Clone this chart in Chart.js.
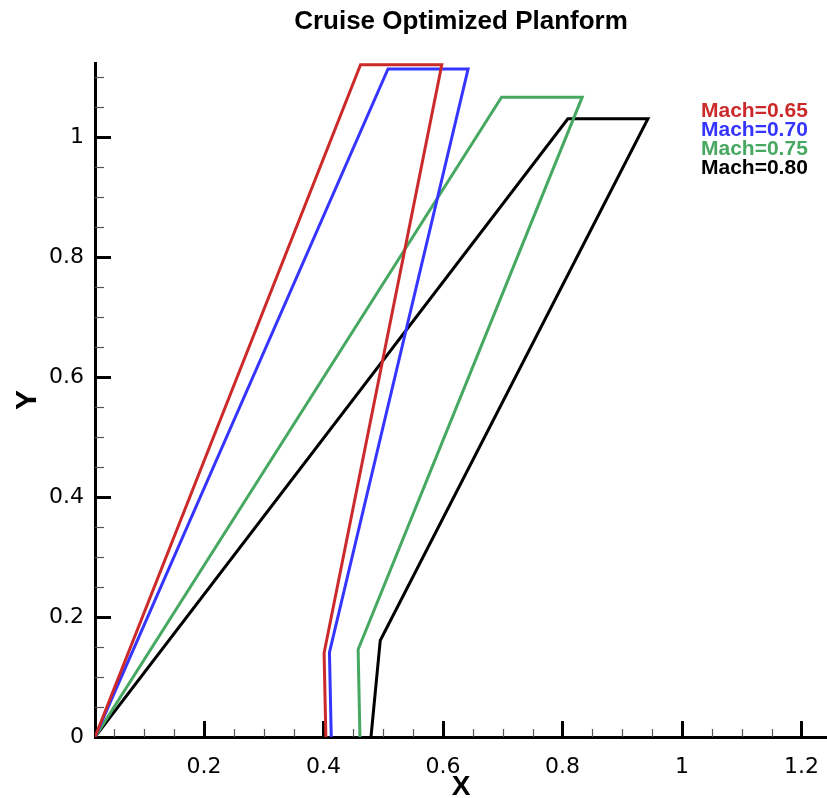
<!DOCTYPE html>
<html>
<head>
<meta charset="utf-8">
<title>Cruise Optimized Planform</title>
<script src="https://cdn.jsdelivr.net/npm/chart.js@4/dist/chart.umd.min.js"></script>
<style>
  html, body { margin: 0; padding: 0; background: #fff; }
  #wrap { width: 827px; height: 798px; }
</style>
</head>
<body>
<div id="wrap"><canvas id="planform" width="827" height="798"></canvas></div>
<script>
// planform outlines: root LE -> tip LE -> tip TE -> kink TE -> root TE
const chartTitle = 'Cruise Optimized Planform';
const seriesLabels = ['Mach=0.65', 'Mach=0.70', 'Mach=0.75', 'Mach=0.80'];
const seriesColors = ['#cc2a2a', '#3535ff', '#47a862', '#000000'];

const mach065X = [0.0176, 0.462, 0.598, 0.401, 0.404];
const mach065Y = [0, 1.121, 1.121, 0.140, 0];
const mach070X = [0.0176, 0.508, 0.642, 0.410, 0.413];
const mach070Y = [0, 1.114, 1.114, 0.141, 0];
const mach075X = [0.0176, 0.698, 0.833, 0.458, 0.461];
const mach075Y = [0, 1.067, 1.067, 0.146, 0];
const mach080X = [0.0176, 0.809, 0.943, 0.495, 0.4795];
const mach080Y = [0, 1.031, 1.031, 0.161, 0];

const xRange = [0.0176, 1.2427];
const yRange = [0, 1.124];
const majorStep = 0.2, minorStep = 0.05;

const toPoints = (xs, ys) => xs.map((x, i) => ({ x: x, y: ys[i] }));
const isMajor = (v) => Math.abs(v / majorStep - Math.round(v / majorStep)) < 1e-6;
const fmt = (v) => String(Math.round(v * 10) / 10);

const allX = [mach065X, mach070X, mach075X, mach080X];
const allY = [mach065Y, mach070Y, mach075Y, mach080Y];

// inward tick marks (major + minor), like the original plot
const inwardTicks = {
    id: 'inwardTicks',
    beforeDatasetsDraw(chart) {
        const { ctx, chartArea, scales: { x, y } } = chart;
        ctx.save();
        x.ticks.forEach(t => {
            if (t.value <= x.min + 1e-6 || t.value >= x.max - 1e-6) return;
            const major = isMajor(t.value);
            const px = Math.round(x.getPixelForValue(t.value)) + 0.5;
            ctx.lineWidth = major ? 3 : 1.2;
            ctx.strokeStyle = major ? '#000' : '#555';
            ctx.beginPath();
            ctx.moveTo(px, chartArea.bottom);
            ctx.lineTo(px, chartArea.bottom - (major ? 16 : 8));
            ctx.stroke();
        });
        y.ticks.forEach(t => {
            if (t.value <= y.min + 1e-6 || t.value >= y.max - 1e-6) return;
            const major = isMajor(t.value);
            const py = Math.round(y.getPixelForValue(t.value)) + 0.5;
            ctx.lineWidth = major ? 3 : 1.2;
            ctx.strokeStyle = major ? '#000' : '#555';
            ctx.beginPath();
            ctx.moveTo(chartArea.left, py);
            ctx.lineTo(chartArea.left + (major ? 16 : 9), py);
            ctx.stroke();
        });
        ctx.restore();
    }
};

// title centred over the plot area + text legend in the upper right corner
const textLegend = {
    id: 'textLegend',
    afterDraw(chart) {
        const { ctx, chartArea } = chart;
        ctx.save();
        ctx.fillStyle = '#000';
        ctx.font = 'bold 26px "Liberation Sans", Arial, sans-serif';
        ctx.textAlign = 'center';
        ctx.textBaseline = 'alphabetic';
        ctx.fillText(chartTitle, (chartArea.left + chartArea.right) / 2, 29);

        ctx.font = 'bold 21px "Liberation Sans", Arial, sans-serif';
        ctx.textAlign = 'left';
        chart.data.datasets.forEach((ds, i) => {
            ctx.fillStyle = ds.borderColor;
            ctx.fillText(ds.label, 701, 117 + i * 19);
        });
        ctx.restore();
    }
};

const tickFont = { family: '"DejaVu Sans", sans-serif', size: 22 };

new Chart(document.getElementById('planform').getContext('2d'), {
    type: 'scatter',
    data: {
        datasets: seriesLabels.map((label, i) => ({
            label: label,
            data: toPoints(allX[i], allY[i]),
            showLine: true,
            borderColor: seriesColors[i],
            backgroundColor: seriesColors[i],
            borderWidth: 3,
            pointRadius: 0,
            tension: 0,
            fill: false,
            clip: 0
        }))
    },
    options: {
        responsive: false,
        animation: false,
        events: [],
        layout: { padding: { left: 0, right: 0, top: 63, bottom: 0 } },
        plugins: {
            legend: { display: false },
            tooltip: { enabled: false },
            title: { display: false }
        },
        scales: {
            x: {
                type: 'linear',
                min: xRange[0], max: xRange[1],
                border: { display: true, color: '#000', width: 3 },
                grid: { drawOnChartArea: false, drawTicks: false },
                ticks: {
                    stepSize: minorStep, autoSkip: false, includeBounds: false,
                    maxRotation: 0, minRotation: 0,
                    maxTicksLimit: 200, color: '#000', font: tickFont, padding: 17,
                    callback: (v) => isMajor(v) ? fmt(v) : ''
                },
                title: {
                    display: true, text: 'X', color: '#000',
                    font: { family: '"Liberation Sans", Arial, sans-serif', size: 28, weight: 'bold', lineHeight: 0.8 },
                    padding: { top: 0, bottom: 0 }
                },
                afterFit: (scale) => {
                    scale.height = 61;
                    scale.paddingLeft = 0;
                    scale.paddingRight = 0;
                }
            },
            y: {
                type: 'linear',
                min: yRange[0], max: yRange[1],
                border: { display: true, color: '#000', width: 3 },
                grid: { drawOnChartArea: false, drawTicks: false },
                ticks: {
                    stepSize: minorStep, autoSkip: false, includeBounds: false,
                    maxTicksLimit: 200, color: '#000', font: tickFont, padding: 11,
                    callback: (v) => isMajor(v) ? fmt(v) : ''
                },
                title: {
                    display: true, text: 'Y', color: '#000',
                    font: { family: '"Liberation Sans", Arial, sans-serif', size: 30, weight: 'bold', lineHeight: 1 },
                    padding: { top: 13, bottom: 0 }
                },
                afterFit: (scale) => {
                    scale.width = 95;
                    scale.paddingTop = 0;
                    scale.paddingBottom = 0;
                }
            }
        }
    },
    plugins: [inwardTicks, textLegend]
});
</script>
</body>
</html>
